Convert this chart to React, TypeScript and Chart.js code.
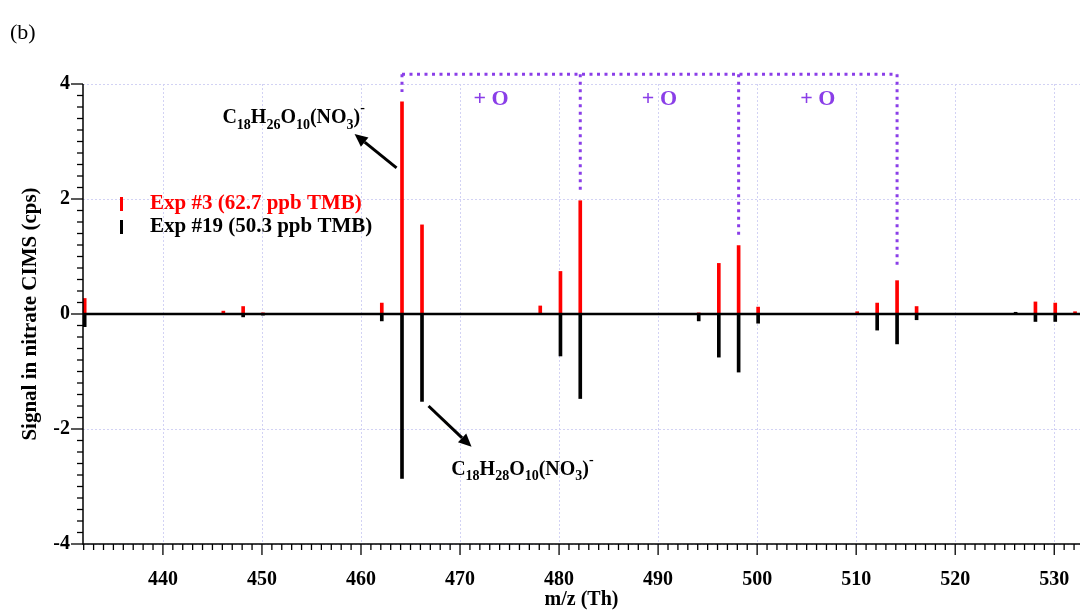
import React, { useEffect, useRef } from 'react';
import { Chart, registerables } from 'chart.js';

Chart.register(...registerables);

// ---------- data ----------
const massCharge = [432.1, 446.1, 448.1, 450.1, 462.1, 464.14, 466.16, 478.1, 480.14, 482.14, 494.1, 496.13, 498.13, 500.1, 510.1, 512.12, 514.13, 516.1, 526.1, 528.1, 530.1, 532.1];
const exp3Signal = [0.27, 0.05, 0.13, 0.02, 0.19, 3.69, 1.55, 0.14, 0.74, 1.97, 0.02, 0.88, 1.19, 0.12, 0.04, 0.19, 0.58, 0.13, 0, 0.21, 0.19, 0.04];
const exp19Signal = [-0.22, 0, -0.05, -0.02, -0.12, -2.86, -1.52, 0, -0.73, -1.47, -0.12, -0.75, -1.01, -0.16, -0.01, -0.28, -0.52, -0.1, 0.03, -0.13, -0.13, 0];
const xTickValues = [440, 450, 460, 470, 480, 490, 500, 510, 520, 530];
const yTickValues = [-4, -2, 0, 2, 4];
const exp3Label = 'Exp #3 (62.7 ppb TMB)';
const exp19Label = 'Exp #19 (50.3 ppb TMB)';
const oxidationSteps = [464.14, 482.14, 498.13, 514.13];
const bracketEnds = [3.86, 2.1, 1.3, 0.85];
const stepLabel = '+ O';

const SERIF = "'Liberation Serif', 'Times New Roman', serif";
const PURPLE = '#8a3ee8';
const GRID = '#d2d2f4';
const RED = '#ff0000';

type Part = [string, 'n' | 'sub' | 'sup'];
const formulaTop: Part[] = [['C', 'n'], ['18', 'sub'], ['H', 'n'], ['26', 'sub'], ['O', 'n'], ['10', 'sub'], ['(NO', 'n'], ['3', 'sub'], [')', 'n'], ['-', 'sup']];
const formulaBottom: Part[] = [['C', 'n'], ['18', 'sub'], ['H', 'n'], ['28', 'sub'], ['O', 'n'], ['10', 'sub'], ['(NO', 'n'], ['3', 'sub'], [')', 'n'], ['-', 'sup']];

function drawFormula(ctx: CanvasRenderingContext2D, parts: Part[], cx: number, cy: number, size: number) {
  const big = `bold ${size}px ${SERIF}`;
  const small = `bold ${Math.round(size * 0.68)}px ${SERIF}`;
  let total = 0;
  parts.forEach(([t, k]) => {
    ctx.font = k === 'n' ? big : small;
    total += ctx.measureText(t).width;
  });
  let xx = cx - total / 2;
  ctx.textAlign = 'left';
  ctx.textBaseline = 'alphabetic';
  const base = cy + size * 0.33;
  parts.forEach(([t, k]) => {
    ctx.font = k === 'n' ? big : small;
    const dy = k === 'sub' ? size * 0.28 : k === 'sup' ? -size * 0.55 : 0;
    ctx.fillText(t, xx, base + dy);
    xx += ctx.measureText(t).width;
  });
}

function drawArrow(ctx: CanvasRenderingContext2D, x1: number, y1: number, x2: number, y2: number) {
  const ang = Math.atan2(y2 - y1, x2 - x1);
  const hl = 13, hw = 6;
  const bx = x2 - hl * Math.cos(ang), by = y2 - hl * Math.sin(ang);
  ctx.strokeStyle = '#000';
  ctx.fillStyle = '#000';
  ctx.lineWidth = 3;
  ctx.setLineDash([]);
  ctx.beginPath();
  ctx.moveTo(x1, y1);
  ctx.lineTo(bx, by);
  ctx.stroke();
  ctx.beginPath();
  ctx.moveTo(x2, y2);
  ctx.lineTo(bx + hw * Math.sin(ang), by - hw * Math.cos(ang));
  ctx.lineTo(bx - hw * Math.sin(ang), by + hw * Math.cos(ang));
  ctx.closePath();
  ctx.fill();
}

const decorPlugin = {
  id: 'decor',
  beforeDatasetsDraw(chart: any) {
    const { ctx, chartArea: ca, scales: { x, y } } = chart;
    ctx.save();
    ctx.strokeStyle = GRID;
    ctx.lineWidth = 1;
    ctx.setLineDash([2, 2]);
    xTickValues.forEach((v) => {
      const px = Math.round(x.getPixelForValue(v)) + 0.5;
      ctx.beginPath();
      ctx.moveTo(px, ca.top);
      ctx.lineTo(px, ca.bottom);
      ctx.stroke();
    });
    yTickValues.filter((v) => v !== 0).forEach((v) => {
      const py = Math.round(y.getPixelForValue(v)) + 0.5;
      ctx.beginPath();
      ctx.moveTo(ca.left, py);
      ctx.lineTo(ca.right, py);
      ctx.stroke();
    });
    ctx.restore();
  },
  afterDatasetsDraw(chart: any) {
    const { ctx, chartArea: ca, scales: { x, y } } = chart;
    ctx.save();
    ctx.setLineDash([]);
    // zero line
    ctx.strokeStyle = '#000';
    ctx.lineWidth = 2.5;
    const y0 = y.getPixelForValue(0);
    ctx.beginPath();
    ctx.moveTo(ca.left, y0);
    ctx.lineTo(ca.right, y0);
    ctx.stroke();
    // axes
    ctx.lineWidth = 1.5;
    ctx.beginPath();
    ctx.moveTo(ca.left, ca.top);
    ctx.lineTo(ca.left, ca.bottom);
    ctx.lineTo(ca.right, ca.bottom);
    ctx.stroke();
    // y ticks
    ctx.lineWidth = 1.3;
    for (let i = -20; i <= 20; i++) {
      const v = i / 5;
      const py = y.getPixelForValue(v);
      const len = i % 10 === 0 ? 12 : 6;
      ctx.beginPath();
      ctx.moveTo(ca.left, py);
      ctx.lineTo(ca.left - len, py);
      ctx.stroke();
    }
    // x ticks
    for (let v = Math.ceil(x.min); v <= Math.floor(x.max); v++) {
      const px = x.getPixelForValue(v);
      const len = v % 10 === 0 ? 11 : 6;
      ctx.beginPath();
      ctx.moveTo(px, ca.bottom);
      ctx.lineTo(px, ca.bottom + len);
      ctx.stroke();
    }
    // brackets
    ctx.strokeStyle = PURPLE;
    ctx.lineWidth = 3;
    ctx.setLineDash([3, 4.5]);
    const topY = y.getPixelForValue(4.17);
    ctx.beginPath();
    ctx.moveTo(x.getPixelForValue(oxidationSteps[0]), topY);
    ctx.lineTo(x.getPixelForValue(oxidationSteps[oxidationSteps.length - 1]), topY);
    ctx.stroke();
    oxidationSteps.forEach((m, i) => {
      const px = x.getPixelForValue(m);
      ctx.beginPath();
      ctx.moveTo(px, topY);
      ctx.lineTo(px, y.getPixelForValue(bracketEnds[i]));
      ctx.stroke();
    });
    ctx.setLineDash([]);
    ctx.fillStyle = PURPLE;
    ctx.font = `bold 22px ${SERIF}`;
    ctx.textAlign = 'center';
    ctx.textBaseline = 'middle';
    for (let i = 0; i < oxidationSteps.length - 1; i++) {
      const cx = x.getPixelForValue((oxidationSteps[i] + oxidationSteps[i + 1]) / 2);
      ctx.fillText(stepLabel, cx, y.getPixelForValue(3.73));
    }
    // arrows
    drawArrow(ctx, x.getPixelForValue(463.59), y.getPixelForValue(2.54), x.getPixelForValue(459.35), y.getPixelForValue(3.13));
    drawArrow(ctx, x.getPixelForValue(466.82), y.getPixelForValue(-1.6), x.getPixelForValue(471.16), y.getPixelForValue(-2.31));
    ctx.fillStyle = '#000';
    drawFormula(ctx, formulaTop, x.getPixelForValue(453.2), y.getPixelForValue(3.43), 20);
    drawFormula(ctx, formulaBottom, x.getPixelForValue(476.3), y.getPixelForValue(-2.68), 20);
    // legend
    ctx.fillStyle = RED;
    ctx.fillRect(120, 197, 3, 14);
    ctx.fillStyle = '#000';
    ctx.fillRect(120, 220, 3, 14);
    ctx.font = `bold 21px ${SERIF}`;
    ctx.textAlign = 'left';
    ctx.textBaseline = 'middle';
    ctx.fillStyle = RED;
    ctx.fillText(exp3Label, 150, 204);
    ctx.fillStyle = '#000';
    ctx.fillText(exp19Label, 150, 227);
    // panel label
    ctx.font = `22px ${SERIF}`;
    ctx.fillText('(b)', 10, 33);
    ctx.restore();
  },
};

export default function App() {
  const ref = useRef<HTMLCanvasElement | null>(null);
  useEffect(() => {
    if (!ref.current) return;
    const tickFont = { family: SERIF, size: 20, weight: 'bold' as const };
    const titleFont = { family: SERIF, size: 21, weight: 'bold' as const };
    const chart = new Chart(ref.current, {
      type: 'bar',
      data: {
        datasets: [
          {
            label: exp3Label,
            data: massCharge.map((m, i) => ({ x: m, y: exp3Signal[i] })),
            backgroundColor: RED,
            barThickness: 3,
            grouped: false,
          } as any,
          {
            label: exp19Label,
            data: massCharge.map((m, i) => ({ x: m, y: exp19Signal[i] })),
            backgroundColor: '#000',
            barThickness: 3,
            grouped: false,
          } as any,
        ],
      },
      options: {
        responsive: false,
        animation: false,
        layout: { padding: { top: 84, right: 1, left: 0, bottom: 0 } },
        plugins: { legend: { display: false }, tooltip: { enabled: false } },
        scales: {
          x: {
            type: 'linear',
            min: 431.93,
            max: 532.6,
            offset: false,
            grid: { display: false, tickLength: 22 },
            border: { display: false },
            afterBuildTicks: (s: any) => { s.ticks = xTickValues.map((v) => ({ value: v })); },
            afterFit: (s: any) => { s.height = 68; },
            ticks: { font: tickFont, color: '#000', padding: 2, maxRotation: 0, autoSkip: false, callback: (v: any) => String(v) },
            title: { display: true, text: 'm/z (Th)', color: '#000', font: tickFont, padding: { top: 0, bottom: 0 } },
          },
          y: {
            min: -4,
            max: 4,
            grid: { display: false, tickLength: 10 },
            border: { display: false },
            afterBuildTicks: (s: any) => { s.ticks = yTickValues.map((v) => ({ value: v })); },
            afterFit: (s: any) => { s.width = 83; },
            ticks: { font: tickFont, color: '#000', padding: 3, callback: (v: any) => String(v) },
            title: { display: true, text: 'Signal in nitrate CIMS (cps)', color: '#000', font: titleFont, padding: { top: 18, bottom: 0 } },
          },
        },
      } as any,
      plugins: [decorPlugin],
    });
    return () => chart.destroy();
  }, []);
  return (
    <canvas
      ref={ref}
      width={1081}
      height={612}
      style={{ position: 'absolute', left: 0, top: 0, display: 'block', background: '#fff' }}
    />
  );
}
